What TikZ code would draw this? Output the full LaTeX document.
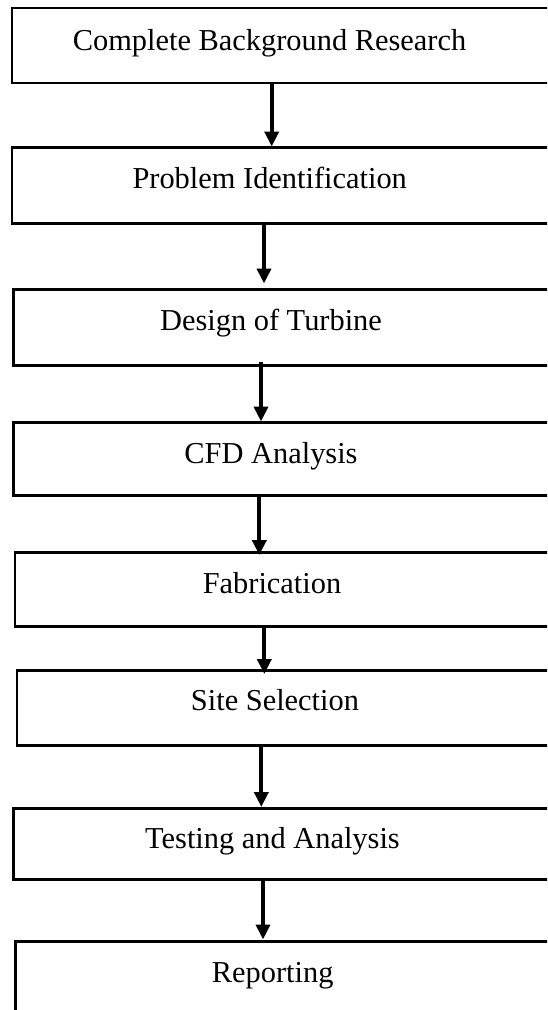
\documentclass[tikz,border=0pt]{standalone}
\usepackage{fontspec}
\setmainfont{Liberation Serif}
\usetikzlibrary{arrows.meta}

\tikzset{
  stepbox/.style={draw=black, line width=2.2pt, fill=none, rectangle,
    inner sep=0pt, outer sep=0pt, minimum width=560pt, anchor=north west},
  steptext/.style={anchor=base, inner sep=0pt,
    font=\fontsize{30.4}{36}\selectfont},
  flow/.style={line width=4pt, -{Triangle[width=14pt,length=15pt]}}
}

\begin{document}
\begin{tikzpicture}[x=1pt,y=-1pt]
  \useasboundingbox (0,0) rectangle (547,1010);
  \clip (0,0) rectangle (547,1010);

  % process boxes (they run past the right and bottom edges)
  \node[stepbox, minimum height=75pt] (b1) at (11.7,8)   {};
  \node[stepbox, minimum height=76pt] (b2) at (11.7,147.5) {};
  \node[stepbox, minimum height=76pt] (b3) at (13.5,289.5) {};
  \node[stepbox, minimum height=73pt] (b4) at (13.5,422.5) {};
  \node[stepbox, minimum height=74pt] (b5) at (15,552.5) {};
  \node[stepbox, minimum height=75pt] (b6) at (17,670.5) {};
  \node[stepbox, minimum height=71pt] (b7) at (13.5,808.5) {};
  \node[stepbox, minimum height=120pt] (b8) at (15.5,941.5) {};

  % labels
  \node[steptext] (t1) at (269.5,50)  {Complete Background Research};
  \node[steptext] (t2) at (269.7,188.5) {Problem Identification};
  \node[steptext] (t3) at (271,330)   {Design of Turbine};
  \node[steptext] (t4) at (271,463)   {CFD Analysis};
  \node[steptext] (t5) at (272,593)   {Fabrication};
  \node[steptext] (t6) at (275,710)   {Site Selection};
  \node[steptext] (t7) at (272.5,848.5) {Testing and Analysis};
  \node[steptext] (t8) at (272.7,982.5) {Reporting};

  % connectors (vertical; offsets measured from each box's left edge)
  \draw[flow] ([xshift=260pt]b1.south west) -- ([xshift=260pt,yshift=1pt]b2.north west);
  \draw[flow] ([xshift=252.3pt,yshift=2pt]b2.south west) -- ([xshift=250.5pt,yshift=6pt]b3.north west);
  \draw[flow] ([xshift=247.5pt,yshift=4pt]b3.south west) -- ([xshift=247.5pt,yshift=1pt]b4.north west);
  \draw[flow] ([xshift=245.8pt]b4.south west) -- ([xshift=244.3pt,yshift=-2.5pt]b5.north west);
  \draw[flow] ([xshift=249.3pt]b5.south west) -- ([xshift=247.3pt,yshift=-3.5pt]b6.north west);
  \draw[flow] ([xshift=244.3pt]b6.south west) -- ([xshift=247.8pt,yshift=1.5pt]b7.north west);
  \draw[flow] ([xshift=249.5pt]b7.south west) -- ([xshift=247.5pt,yshift=2pt]b8.north west);
\end{tikzpicture}
\end{document}
